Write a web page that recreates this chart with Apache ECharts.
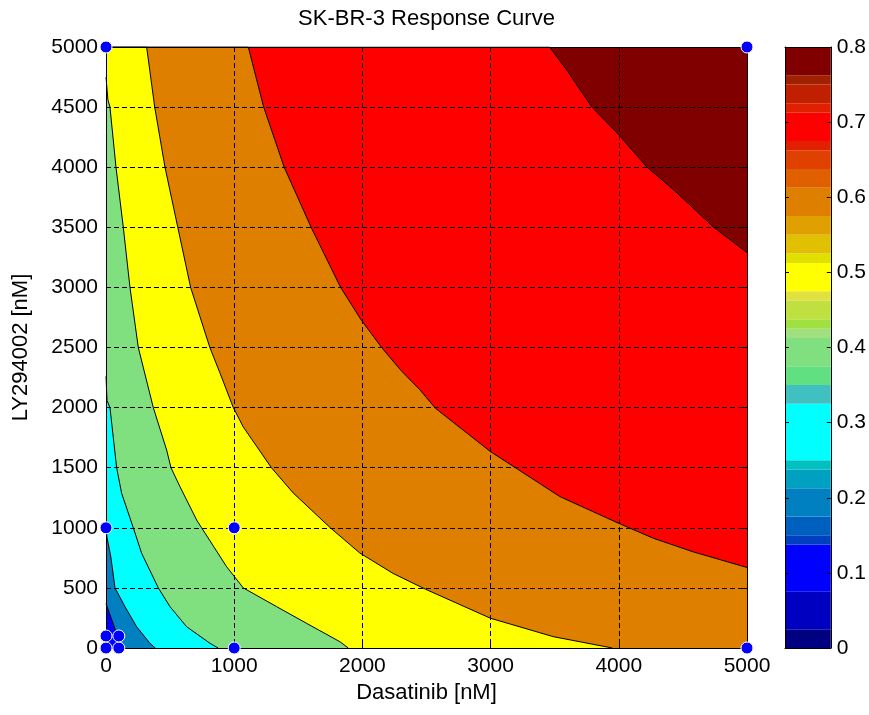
<!DOCTYPE html>
<html>
<head>
<meta charset="utf-8">
<script src="https://cdn.jsdelivr.net/npm/echarts@6/dist/echarts.min.js"></script>
<style>
html,body{margin:0;padding:0;background:#fff;}
#chart{width:869px;height:715px;}
</style>
</head>
<body>
<div id="chart"></div>
<script>
// ---- Data ----
const titleText = 'SK-BR-3 Response Curve';
const xName = 'Dasatinib [nM]';
const yName = 'LY294002 [nM]';

// contour lines [Dasatinib, LY294002]
const contour08 = [[0,5000],[3460,5000],[3600,4800],[3790,4500],[4000,4270],[4220,4000],[4430,3810],[4740,3500],[5000,3290]];
const contour07 = [[0,5000],[1110,5000],[1230,4500],[1390,4000],[1600,3500],[1830,3000],[1990,2730],[2150,2500],[2300,2310],[2450,2146],[2570,1994],[3000,1633],[3200,1495],[3540,1260],[4000,1037],[4270,913],[4580,800],[5000,670]];
const contour06 = [[0,5000],[317,5000],[380,4500],[460,4000],[560,3500],[660,3000],[810,2500],[890,2285],[993,2000],[1070,1840],[1290,1500],[1460,1290],[1750,1000],[1980,790],[2240,620],[2490,490],[3000,247],[3490,94],[3950,0]];
const contour05 = [[0,4750],[15,4560],[31,4500],[78,4000],[135,3500],[187,3000],[252,2500],[369,2000],[473,1647],[507,1500],[577,1342],[707,1065],[746,1000],[941,676],[1071,500],[1331,344],[1565,205],[1825,52],[1890,0]];
const contour04 = [[0,2260],[8,2060],[31,2000],[57,1750],[83,1500],[122,1287],[213,1000],[278,788],[408,500],[499,344],[629,177],[811,39],[875,0]];
const contour03 = [[0,1000],[8,920],[39,750],[70,500],[148,344],[239,177],[343,39],[385,0]];
const contour02 = [[0,370],[40,250],[78,136],[105,60],[120,0]];

const contourLines = [contour08, contour07, contour06, contour05, contour04, contour03, contour02];
const contourFills = ['#ff0000', '#df7f00', '#ffff00', '#80e080', '#00ffff', '#0080c0', '#0000ff'];
const topFill = '#800000';

// measured points
const pointX = [0, 0, 100, 100, 0, 1000, 1000, 0, 5000, 5000];
const pointY = [0, 100, 0, 100, 1000, 1000, 0, 5000, 5000, 0];

// colorbar bands (edges and colours, from bottom)
const cbEdges = [0,0.025,0.075,0.1375,0.15,0.175,0.2125,0.2375,0.25,0.325,0.35,0.375,0.4125,0.425,0.4375,0.4625,0.475,0.5125,0.525,0.55,0.575,0.6125,0.6375,0.6625,0.675,0.7125,0.725,0.75,0.7625,0.8];
const cbColors = ['#000080','#0000c0','#0000ff','#0040c0','#0060c0','#0080c0','#00a0c0','#00c0c0','#00ffff','#40c0c0','#60e080','#80e080','#a0e080','#a0e040','#c0e040','#e0e040','#ffff00','#e0e000','#e0c000','#e0a000','#df7f00','#e06000','#e04000','#e02000','#ff0000','#e02000','#c02000','#a02000','#800000'];

// ---- Chart ----
const font = 'Liberation Sans, Arial, Helvetica, sans-serif';
const tickFs = 21;
const nameFs = 22;
const chart = echarts.init(document.getElementById('chart'), null, {renderer:'canvas'});

const series = [];
contourLines.forEach((pts, i) => {
  series.push({
    type:'line', xAxisIndex:0, yAxisIndex:0, data:pts,
    showSymbol:false, symbol:'none', smooth:false,
    lineStyle:{color:'#000', width:1},
    areaStyle:{color:contourFills[i], opacity:1, origin:'start'},
    silent:true, z:2
  });
});
series.push({
  type:'scatter', xAxisIndex:0, yAxisIndex:0,
  data: pointX.map((x, i) => [x, pointY[i]]),
  symbol:'circle', symbolSize:12, clip:false,
  itemStyle:{color:'#0000ff', borderColor:'#ffffff', borderWidth:1, opacity:1},
  z:10
});
for (let i = 0; i < cbColors.length; i++) {
  series.push({
    type:'bar', xAxisIndex:2, yAxisIndex:2, stack:'cb',
    data:[cbEdges[i+1] - cbEdges[i]],
    barWidth:'100%', itemStyle:{color:cbColors[i]}, silent:true, z:2
  });
}

const plain = v => String(Math.round(v * 1000) / 1000);
const tickStyle = {color:'#000', fontSize:tickFs, fontFamily:font, formatter:plain};
const nameStyle = {color:'#000', fontSize:nameFs, fontFamily:font};
const dash = {color:'#000', width:1, type:[5,3]};
const option = {
  animation:false,
  backgroundColor:'#ffffff',
  textStyle:{fontFamily:font},
  grid:[
    {left:106, top:47, width:641, height:601, show:true, backgroundColor:topFill, borderWidth:0},
    {left:785, top:47, width:47, height:601}
  ],
  xAxis:[
    {type:'value', gridIndex:0, min:0, max:5000, interval:1000, position:'bottom',
     name:xName, nameLocation:'middle', nameGap:32, nameTextStyle:nameStyle,
     axisLine:{show:true, onZero:false, lineStyle:{color:'#000', width:1}},
     axisTick:{show:true, inside:true, length:5, lineStyle:{color:'#000'}},
     axisLabel:Object.assign({margin:8}, tickStyle),
     splitLine:{show:true, lineStyle:dash}, z:5},
    {type:'value', gridIndex:0, min:0, max:5000, interval:1000, position:'top',
     name:titleText, nameLocation:'middle', nameGap:17, nameTextStyle:nameStyle,
     axisLine:{show:true, onZero:false, lineStyle:{color:'#000', width:1}},
     axisTick:{show:true, inside:true, length:5, lineStyle:{color:'#000'}},
     axisLabel:{show:false}, splitLine:{show:false}, z:5},
    {type:'category', gridIndex:1, data:['cb'], position:'bottom',
     axisLine:{show:true, onZero:false, lineStyle:{color:'#000'}}, axisTick:{show:false}, axisLabel:{show:false}, splitLine:{show:false}, z:5},
    {type:'category', gridIndex:1, data:['cb'], position:'top',
     axisLine:{show:true, onZero:false, lineStyle:{color:'#000'}}, axisTick:{show:false}, axisLabel:{show:false}, splitLine:{show:false}, z:5}
  ],
  yAxis:[
    {type:'value', gridIndex:0, min:0, max:5000, interval:500, position:'left',
     name:yName, nameLocation:'middle', nameGap:74, nameRotate:90, nameTextStyle:nameStyle,
     axisLine:{show:true, onZero:false, lineStyle:{color:'#000', width:1}},
     axisTick:{show:true, inside:true, length:5, lineStyle:{color:'#000'}},
     axisLabel:Object.assign({margin:8}, tickStyle),
     splitLine:{show:true, lineStyle:dash}, z:5},
    {type:'value', gridIndex:0, min:0, max:5000, interval:500, position:'right',
     axisLine:{show:true, onZero:false, lineStyle:{color:'#000', width:1}},
     axisTick:{show:true, inside:true, length:5, lineStyle:{color:'#000'}},
     axisLabel:{show:false}, splitLine:{show:false}, z:5},
    {type:'value', gridIndex:1, min:0, max:0.8, interval:0.1, position:'right',
     axisLine:{show:true, onZero:false, lineStyle:{color:'#000'}},
     axisTick:{show:true, inside:true, length:4, lineStyle:{color:'#000'}},
     axisLabel:Object.assign({margin:6}, tickStyle),
     splitLine:{show:false}, z:5},
    {type:'value', gridIndex:1, min:0, max:0.8, interval:0.1, position:'left',
     axisLine:{show:true, onZero:false, lineStyle:{color:'#000'}},
     axisTick:{show:true, inside:true, length:4, lineStyle:{color:'#000'}},
     axisLabel:{show:false}, splitLine:{show:false}, z:5}
  ],
  series:series
};
chart.setOption(option);
</script>
</body>
</html>
